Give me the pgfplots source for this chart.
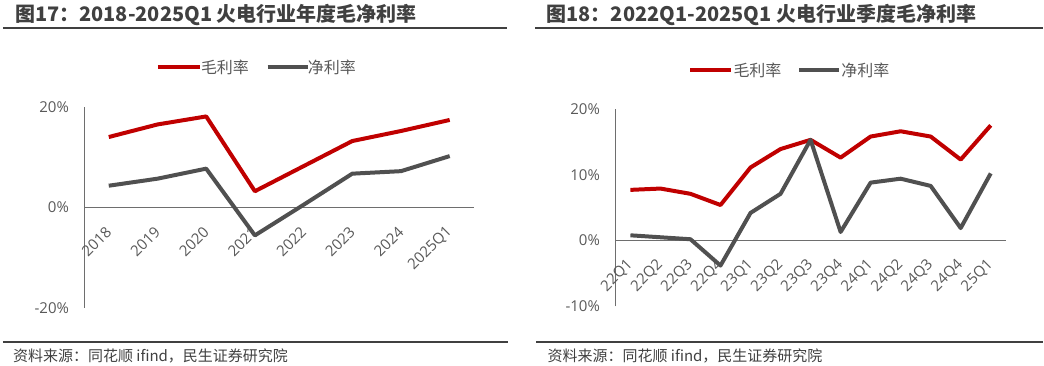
\documentclass[border=0pt]{standalone}
\usepackage{fontspec}
\usepackage{pgfplots}
\pgfplotsset{compat=1.18}
\setmainfont{Open Sans}
\newfontfamily\cjk{Noto Sans CJK SC}
\definecolor{myred}{HTML}{C00000}
\definecolor{mygray}{HTML}{505050}
\definecolor{axgray}{HTML}{6E6E6E}
\definecolor{txtgray}{HTML}{595959}
\definecolor{ttlgray}{HTML}{404040}
\pgfplotsset{
  mystyle/.style={
    scale only axis, set layers, clip=false,
    axis x line=middle, axis y line=left,
    axis line style={axgray, line width=1pt, -},
    major tick length=0pt,
    xtick=data,
    xticklabel style={yshift=-22pt, rotate=45, anchor=east, inner sep=0pt, font=\fontsize{15}{17}\selectfont, text=txtgray},
    yticklabel style={font=\fontsize{15}{17}\selectfont, text=txtgray, xshift=-12pt},
    every axis plot/.append style={line width=4pt, line join=round},
  }
}
\begin{document}
\begin{tikzpicture}
\path (0pt,0pt) rectangle (1044pt,-366pt);
% titles and rules
\node[anchor=west, inner sep=0pt, text=ttlgray] at (15pt,-15pt) {\cjk\bfseries\fontsize{20}{22}\selectfont 图17：2018-2025Q1 火电行业年度毛净利率};
\node[anchor=west, inner sep=0pt, text=ttlgray] at (547pt,-15pt) {\cjk\bfseries\fontsize{20}{22}\selectfont 图18：2022Q1-2025Q1 火电行业季度毛净利率};
\draw[ttlgray, line width=2pt] (3pt,-28pt) -- (507pt,-28pt);
\draw[ttlgray, line width=2pt] (536pt,-28pt) -- (1044pt,-28pt);
\draw[ttlgray, line width=2pt] (3pt,-342pt) -- (508pt,-342pt);
\draw[ttlgray, line width=2pt] (537pt,-342pt) -- (1044pt,-342pt);
\node[anchor=west, inner sep=0pt, text=ttlgray] at (13pt,-356pt) {\cjk\fontsize{15}{17}\selectfont 资料来源：同花顺 ifind，民生证券研究院};
\node[anchor=west, inner sep=0pt, text=ttlgray] at (548pt,-356pt) {\cjk\fontsize{15}{17}\selectfont 资料来源：同花顺 ifind，民生证券研究院};
% legends
\draw[myred, line width=4pt] (158pt,-67pt) -- (200pt,-67pt);
\node[anchor=west, inner sep=0pt, text=txtgray] at (201pt,-67pt) {\cjk\fontsize{16}{18}\selectfont 毛利率};
\draw[mygray, line width=4pt] (268pt,-67pt) -- (308pt,-67pt);
\node[anchor=west, inner sep=0pt, text=txtgray] at (308pt,-67pt) {\cjk\fontsize{16}{18}\selectfont 净利率};
\draw[myred, line width=4pt] (691pt,-70pt) -- (732pt,-70pt);
\node[anchor=west, inner sep=0pt, text=txtgray] at (734pt,-70pt) {\cjk\fontsize{16}{18}\selectfont 毛利率};
\draw[mygray, line width=4pt] (800pt,-70pt) -- (840pt,-70pt);
\node[anchor=west, inner sep=0pt, text=txtgray] at (842pt,-70pt) {\cjk\fontsize{16}{18}\selectfont 净利率};
% left axis
\begin{axis}[mystyle,
  at={(84.5pt,-308pt)}, anchor=south west,
  width=390pt, height=201pt,
  xmin=-0.5, xmax=7.5, ymin=-20, ymax=20,
  ytick={-20,0,20}, yticklabels={-20\%,0\%,20\%},
  xticklabels={2018,2019,2020,2021,2022,2023,2024,2025Q1},
]
\addplot[myred] coordinates {(0,14.0) (1,16.5) (2,18.1) (3,3.2) (4,8.2) (5,13.2) (6,15.2) (7,17.4)};
\addplot[mygray] coordinates {(0,4.3) (1,5.7) (2,7.7) (3,-5.6) (4,0.5) (5,6.7) (6,7.2) (7,10.2)};
\end{axis}
% right axis
\begin{axis}[mystyle,
  at={(616pt,-306.7pt)}, anchor=south west,
  width=390.7pt, height=197.7pt,
  xmin=-0.5, xmax=12.5, ymin=-10, ymax=20,
  ytick={-10,0,10,20}, yticklabels={-10\%,0\%,10\%,20\%},
  xticklabels={22Q1,22Q2,22Q3,22Q4,23Q1,23Q2,23Q3,23Q4,24Q1,24Q2,24Q3,24Q4,25Q1},
]
\addplot[myred] coordinates {(0,7.7) (1,7.9) (2,7.1) (3,5.4) (4,11.1) (5,13.9) (6,15.3) (7,12.6) (8,15.8) (9,16.6) (10,15.8) (11,12.3) (12,17.5)};
\addplot[mygray] coordinates {(0,0.8) (1,0.5) (2,0.2) (3,-3.8) (4,4.2) (5,7.1) (6,15.3) (7,1.3) (8,8.8) (9,9.4) (10,8.3) (11,1.9) (12,10.2)};
\end{axis}
\end{tikzpicture}
\end{document}
